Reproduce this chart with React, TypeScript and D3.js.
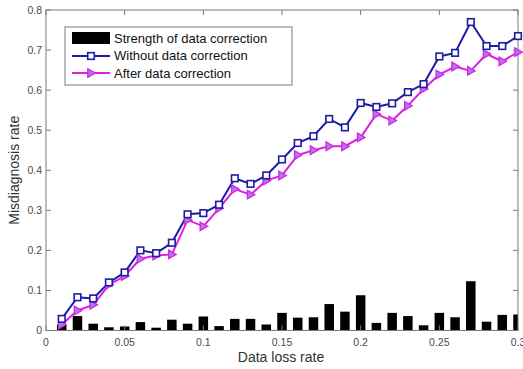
import React from 'react';
import * as d3 from 'd3';

const lossRates = [0.01, 0.02, 0.03, 0.04, 0.05, 0.06, 0.07, 0.08, 0.09, 0.1,
    0.11, 0.12, 0.13, 0.14, 0.15, 0.16, 0.17, 0.18, 0.19, 0.2,
    0.21, 0.22, 0.23, 0.24, 0.25, 0.26, 0.27, 0.28, 0.29, 0.3];

const withoutCorrection = [0.029, 0.083, 0.080, 0.120, 0.145, 0.200, 0.193, 0.219, 0.290, 0.293,
    0.314, 0.380, 0.366, 0.387, 0.427, 0.468, 0.485, 0.528, 0.507, 0.568,
    0.558, 0.567, 0.595, 0.615, 0.684, 0.693, 0.770, 0.710, 0.710, 0.735];

const afterCorrection = [0.015, 0.050, 0.064, 0.114, 0.136, 0.179, 0.187, 0.190, 0.276, 0.260,
    0.305, 0.353, 0.339, 0.374, 0.387, 0.438, 0.450, 0.460, 0.460, 0.482,
    0.540, 0.524, 0.561, 0.603, 0.639, 0.659, 0.648, 0.690, 0.672, 0.695];

const correctionStrength = [0.015, 0.036, 0.017, 0.008, 0.010, 0.021, 0.007, 0.027, 0.017, 0.035,
    0.011, 0.029, 0.029, 0.015, 0.044, 0.032, 0.033, 0.066, 0.047, 0.088,
    0.019, 0.044, 0.036, 0.013, 0.044, 0.033, 0.123, 0.022, 0.039, 0.040];

const xTicks = [0, 0.05, 0.1, 0.15, 0.2, 0.25, 0.3];
const yTicks = [0, 0.1, 0.2, 0.3, 0.4, 0.5, 0.6, 0.7, 0.8];

const legendLabels = ['Strength of data correction', 'Without data correction', 'After data correction'];

const WIDTH = 523;
const HEIGHT = 369;
const LEFT = 46;
const RIGHT = 518;
const TOP = 10;
const BOTTOM = 330.5;

const BLUE = '#1c1ca8';
const MAGENTA = '#e020e0';
const TRI_FILL = '#9a82ec';
const AXIS = '#7a7a7a';
const LABEL = '#4a4a4a';
const FONT = 'Liberation Sans, Arial, sans-serif';

const App: React.FC = () => {
    const x = d3.scaleLinear().domain([0, 0.3]).range([LEFT, RIGHT]);
    const y = d3.scaleLinear().domain([0, 0.8]).range([BOTTOM, TOP]);
    const barW = 9.5;

    const line = d3.line<number>()
        .x((_, i) => x(lossRates[i]))
        .y((d) => y(d));

    // hollow square marker for the uncorrected series
    const square = (cx: number, cy: number, key: string) => (
        <rect key={key} x={cx - 3.3} y={cy - 3.3} width={6.6} height={6.6}
              fill="white" stroke={BLUE} strokeWidth={1.6}/>
    );
    // right-pointing triangle for the corrected series
    const triangle = (cx: number, cy: number, key: string) => (
        <path key={key} d={`M${cx - 3.2},${cy - 4.3}L${cx + 4.3},${cy}L${cx - 3.2},${cy + 4.3}Z`}
              fill={TRI_FILL} stroke={MAGENTA} strokeWidth={1.3}/>
    );

    return (
        <svg width={WIDTH} height={HEIGHT}
             style={{position: 'absolute', left: 0, top: 0, background: 'white'}}
             fontFamily={FONT}>
            <defs>
                <clipPath id="plotClip">
                    <rect x={LEFT} y={TOP} width={RIGHT - LEFT} height={BOTTOM - TOP}/>
                </clipPath>
            </defs>

            <g clipPath="url(#plotClip)">
                {correctionStrength.map((v, i) => (
                    <rect key={'b' + i} x={x(lossRates[i]) - barW / 2} y={y(v)}
                          width={barW} height={BOTTOM - y(v)} fill="black"/>
                ))}
            </g>

            {/* axes box with mirrored ticks */}
            <rect x={LEFT} y={TOP} width={RIGHT - LEFT} height={BOTTOM - TOP}
                  fill="none" stroke={AXIS} strokeWidth={1}/>
            {xTicks.map((t) => (
                <g key={'xt' + t}>
                    <line x1={x(t)} x2={x(t)} y1={BOTTOM} y2={BOTTOM - 5} stroke={AXIS}/>
                    <line x1={x(t)} x2={x(t)} y1={TOP} y2={TOP + 5} stroke={AXIS}/>
                    <text x={x(t)} y={346} textAnchor="middle" fontSize={10.5} fill={LABEL}>{t}</text>
                </g>
            ))}
            {yTicks.map((t) => (
                <g key={'yt' + t}>
                    <line x1={LEFT} x2={LEFT + 5} y1={y(t)} y2={y(t)} stroke={AXIS}/>
                    <line x1={RIGHT} x2={RIGHT - 5} y1={y(t)} y2={y(t)} stroke={AXIS}/>
                    <text x={42} y={y(t) + 3.5} textAnchor="end" fontSize={10.5} fill={LABEL}>{t}</text>
                </g>
            ))}

            <g clipPath="url(#plotClip)">
                <path d={line(withoutCorrection) as string} fill="none" stroke={BLUE} strokeWidth={2}/>
                <path d={line(afterCorrection) as string} fill="none" stroke={MAGENTA} strokeWidth={2}/>
            </g>
            {afterCorrection.map((v, i) => triangle(x(lossRates[i]), y(v), 't' + i))}
            {withoutCorrection.map((v, i) => square(x(lossRates[i]), y(v), 's' + i))}

            {/* legend */}
            <rect x={65} y={27} width={227} height={58} fill="white" stroke={AXIS} strokeWidth={1}/>
            <rect x={72} y={32} width={38} height={12} fill="black"/>
            <line x1={72} x2={110} y1={56} y2={56} stroke={BLUE} strokeWidth={2}/>
            {square(91, 56, 'ls')}
            <line x1={72} x2={110} y1={73} y2={73} stroke={MAGENTA} strokeWidth={2}/>
            {triangle(91, 73, 'lt')}
            {legendLabels.map((l, i) => (
                <text key={l} x={114} y={42.5 + i * 17.5} fontSize={13} fill="#111">{l}</text>
            ))}

            <text x={281} y={362} textAnchor="middle" fontSize={14} fill="#333">Data loss rate</text>
            <text transform={`translate(19,${(TOP + BOTTOM) / 2}) rotate(-90)`} textAnchor="middle"
                  fontSize={14} fill="#333">Misdiagnosis rate</text>
        </svg>
    );
};

export default App;
